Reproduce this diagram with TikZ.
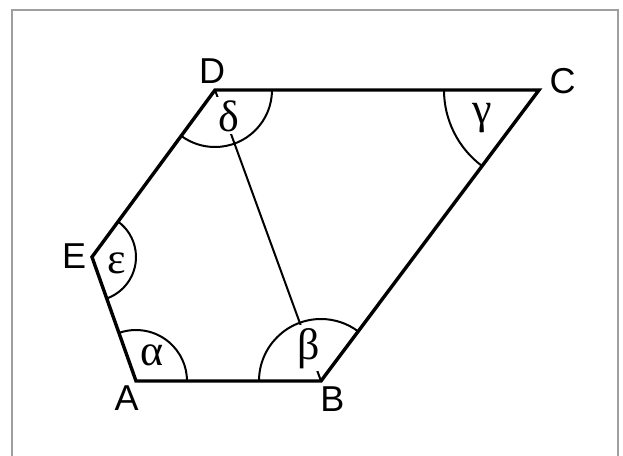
\documentclass[tikz,border=0pt]{standalone}
\usepackage{fontspec}
\setmainfont{Liberation Sans}
\newfontfamily\grk{Liberation Serif}
\begin{document}
\begin{tikzpicture}[x=0.5pt,y=-0.5pt,
  side/.style={line width=1.7pt, line join=miter},
  anglearc/.style={line width=1pt},
  vlabel/.style={anchor=base, font=\fontsize{18}{20}\selectfont, inner sep=0pt},
  glabel/.style={anchor=base, font=\grk\fontsize{22}{24}\selectfont, inner sep=1.5pt, fill=white},
]
\useasboundingbox (0,0) rectangle (623,456);
\begin{scope}
\clip (0,0) rectangle (623,456);
\draw[gray!75, line width=1pt] (12,10) rectangle (618,480);
\end{scope}
\coordinate (A) at (136,381);
\coordinate (B) at (321,381);
\coordinate (C) at (539,90);
\coordinate (D) at (215,90);
\coordinate (E) at (92,257);
% diagonal
\draw[anglearc] (D) -- (B);
% greek labels
\node[glabel] (delta) at (229,131) {δ};
\node[glabel] (beta) at (309,359) {β};
\node[glabel, fill=none] (gamma) at (482,123) {γ};
\node[glabel, fill=none] (eps) at (117,273) {ε};
\node[glabel, fill=none] (alpha) at (152,365) {α};
% polygon
\draw[side] (A) -- (B) -- (C) -- (D) -- (E) -- cycle;
% angle arcs
\draw[anglearc] ([shift={(0:57)}]D) arc[start angle=0,end angle=126.4,radius=57];
\draw[anglearc] ([shift={(126.8:95)}]C) arc[start angle=126.8,end angle=180,radius=95];
\draw[anglearc] ([shift={(-53.6:44)}]E) arc[start angle=-53.6,end angle=70.5,radius=44];
\draw[anglearc] ([shift={(-109.5:51)}]A) arc[start angle=-109.5,end angle=0,radius=51];
\draw[anglearc] ([shift={(180:62)}]B) arc[start angle=180,end angle=306.8,radius=62];
% vertex labels
\node[vlabel] (lD) at (212,83.3) {D};
\node[vlabel] (lC) at (562.5,93.8) {C};
\node[vlabel] (lE) at (74.2,268.3) {E};
\node[vlabel] (lA) at (126.7,410.7) {A};
\node[vlabel] (lB) at (332.3,411.7) {B};
\end{tikzpicture}
\end{document}
